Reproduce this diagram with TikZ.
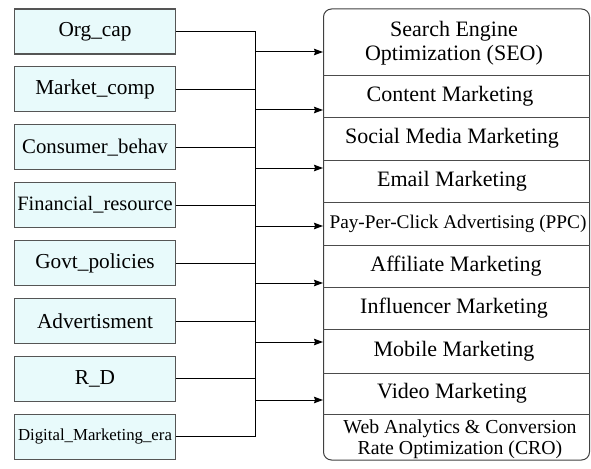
\documentclass[tikz,border=0pt]{standalone}
\usepackage{fontspec}
\setmainfont{Liberation Serif}
\usetikzlibrary{arrows.meta}

\definecolor{factorfill}{HTML}{E8FAFB}
\definecolor{factorline}{HTML}{555555}

\begin{document}
\begin{tikzpicture}[x=1pt, y=-1pt,
  factor/.style={rectangle, draw=factorline, fill=factorfill, line width=1.2pt, minimum width=161pt, minimum height=45pt, inner sep=0pt, font=\fontsize{21.3}{23}\selectfont},
  channel/.style={inner sep=0pt, align=center, font=\fontsize{22}{24}\selectfont},
  link/.style={line width=1pt},
  divider/.style={draw=black!70, line width=0.9pt}]

\useasboundingbox (0,0) rectangle (591,468);

% Define the factor boxes on the left
\node[factor] (f1) at (95, 31.5) {Org\_cap};
\node[factor] (f2) at (95, 89.4) {Market\_comp};
\node[factor, font=\fontsize{20.8}{23}\selectfont] (f3) at (95, 147.3) {Consumer\_behav};
\node[factor, font=\fontsize{20.4}{22}\selectfont] (f4) at (95, 205.2) {Financial\_resource};
\node[factor] (f5) at (95, 263.1) {Govt\_policies};
\node[factor] (f6) at (95, 321) {Advertisment};
\node[factor] (f7) at (95, 378.9) {R\_D};
\node[factor, font=\fontsize{16.8}{18}\selectfont] (f8) at (95, 436.8) {Digital\_Marketing\_era};

% Panel with the marketing channels
\node[draw=black!75, line width=1pt, rounded corners=8pt, minimum width=266pt, minimum height=451pt, inner sep=0pt] (panel) at (456.5, 234.5) {};

\foreach \y in {75,117,160,202,245,287,329,373,414} {
    \draw[divider] (panel.west |- 0,\y) -- (panel.east |- 0,\y);
}

\node[channel] (c1) at (454, 43) {Search Engine\\Optimization (SEO)};
\node[channel] (c2) at (450, 96) {Content Marketing};
\node[channel] (c3) at (452, 138.5) {Social Media Marketing};
\node[channel] (c4) at (452, 181) {Email Marketing};
\node[channel, font=\fontsize{19.3}{22}\selectfont] (c5) at (458, 223.5) {Pay-Per-Click Advertising (PPC)};
\node[channel] (c6) at (456, 266) {Affiliate Marketing};
\node[channel] (c7) at (454, 308) {Influencer Marketing};
\node[channel] (c8) at (454, 351) {Mobile Marketing};
\node[channel] (c9) at (452, 393.5) {Video Marketing};
\node[channel, font=\fontsize{19.8}{21.5}\selectfont] (c10) at (460, 439) {Web Analytics \& Conversion\\Rate Optimization (CRO)};

% Bus joining the factors
\coordinate (bus) at (255, 0);
\foreach \i in {1,...,8} {
    \draw[link] (f\i.east) -- (f\i.east -| bus);
}
\draw[link] (f1.east -| bus) -- (f8.east -| bus);

% Arrows from the bus into the panel
\foreach \y [count=\k] in {52,110,168,226,283,342,400} {
    \coordinate (a\k) at (255, \y);
    \draw[link, -{Stealth[length=9pt, width=6.5pt, inset=1pt]}] (a\k) -- (a\k -| panel.west);
}

\end{tikzpicture}
\end{document}
